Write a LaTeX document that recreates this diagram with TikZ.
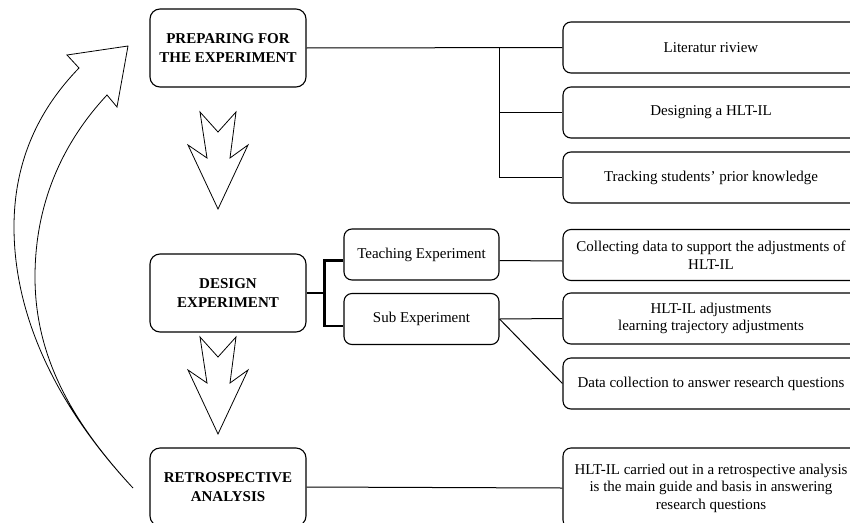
\documentclass[tikz,border=0pt]{standalone}
\usepackage{fontspec}
\setmainfont{Liberation Serif}
\usetikzlibrary{positioning}
\tikzset{
    every node/.style={font=\fontsize{15}{17.5}\selectfont},
}

\begin{document}
\begin{tikzpicture}[x=1pt, y=-1pt,
        phase/.style={draw,rounded corners=10pt,line width=1.1pt,minimum width=156pt,minimum height=78pt,align=center,inner sep=2pt,font=\fontsize{15}{19}\selectfont\bfseries},
        part/.style={draw,rounded corners=8pt,line width=1.1pt,minimum width=155pt,minimum height=51pt,align=center,inner sep=2pt},
        task/.style={draw,rounded corners=8pt,line width=1.1pt,minimum width=296pt,minimum height=51pt,align=center,inner sep=2pt},
        link/.style={line width=1pt},
        boldlink/.style={line width=2.2pt},
        bigarrow/.style={draw,line width=0.8pt,line join=miter}
    ]
    \useasboundingbox (0,0) rectangle (850,522);
    \clip (0,0) rectangle (850,522);

    % three phases
    \node[phase] (prep) at (228,48) {PREPARING FOR\\THE EXPERIMENT};
    \node[phase] (design) at (228,293) {DESIGN\\EXPERIMENT};
    \node[phase] (retro) at (228,487) {RETROSPECTIVE\\ANALYSIS};

    % parts of the design experiment
    \node[part] (teach) at (421.5,254.5) {Teaching Experiment};
    \node[part] (sub) at (421.5,319) {Sub Experiment};

    % activities on the right
    \node[task] (lit) at (711,47.5) {Literatur riview};
    \node[task] (hlt) at (711,112.5) {Designing a HLT-IL};
    \node[task] (track) at (711,177.5) {Tracking students' prior knowledge};
    \node[task] (collect) at (711,255) {Collecting data to support the adjustments of\\HLT-IL};
    \node[task] (adjust) at (711,318.5) {HLT-IL adjustments\\learning trajectory adjustments};
    \node[task] (datacol) at (711,383.5) {Data collection to answer research questions};
    \node[task,minimum height=80pt] (carried) at (711,488) {HLT-IL carried out in a retrospective analysis\\is the main guide and basis in answering\\research questions};

    % preparing -> activities
    \coordinate (t1) at (499,48);
    \draw[link] (prep.east) -- (lit.west);
    \draw[link] (t1) |- (hlt.west);
    \draw[link] (t1) |- (track.west);

    % design -> teaching / sub
    \draw[boldlink] (design.east) -- ++(18,0) coordinate (t2);
    \draw[boldlink] ([yshift=-6pt]teach.west) -| (t2) |- ([yshift=-7pt]sub.west);

    % parts -> activities
    \draw[link] ([yshift=-6pt]teach.east) -- ([yshift=-6pt]collect.west);
    \draw[link] (sub.east) -- (adjust.west);
    \draw[link] (sub.east) -- (datacol.west);

    % retrospective -> activity
    \draw[link] (retro.east) -- (carried.west);

    % block arrows down
    \foreach \y in {112,337}{
        \draw[bigarrow] (200,\y) -- (218,\y+20) -- (236,\y) -- (230,\y+46) -- (248,\y+33)
            -- (218,\y+97) -- (188,\y+33) -- (207,\y+46) -- cycle;
    }

    % curved arrow back to the start
    \draw[bigarrow] (133,488) .. controls (60,410) and (14,320) .. (14,227)
        .. controls (14,150) and (48,100) .. (79,68) -- (67,55) -- (128,46) -- (117,107) -- (107,95)
        .. controls (65,140) and (35,200) .. (35,277)
        .. controls (35,360) and (75,425) .. (133,488) -- cycle;
\end{tikzpicture}
\end{document}
